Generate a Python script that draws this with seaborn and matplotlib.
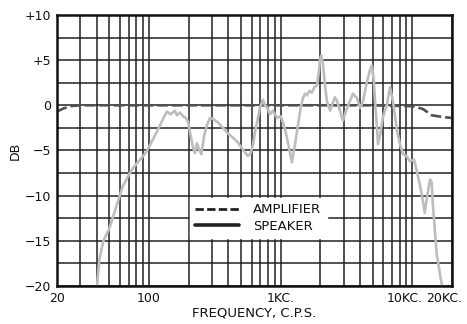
import numpy as np
import pandas as pd
import seaborn as sns
import matplotlib.pyplot as plt
import matplotlib.transforms as mtransforms
from matplotlib.lines import Line2D

# amplifier response (dashed)
amp_freq = [20, 22, 25, 30, 50, 100, 1000, 5000, 10000, 12000, 14000, 17000, 20000]
amp_db = [-0.7, -0.4, -0.1, 0, 0, 0, 0, 0, -0.1, -0.4, -1.1, -1.3, -1.4]

# speaker response (solid, light)
spk_freq = [40, 42, 45, 50, 57, 63, 72, 80, 88, 96, 105, 115, 125, 132, 137, 145,
            157, 163, 172, 181, 190, 198, 206, 214, 223, 231, 240, 250, 262, 275,
            290, 306, 334, 370, 397, 435, 473, 510, 535, 564, 590, 615, 640, 661,
            695, 733, 760, 787, 828, 873, 936, 1000, 1040, 1090, 1135, 1180, 1216,
            1250, 1282, 1352, 1420, 1476, 1530, 1582, 1650, 1726, 1800, 1884, 1950,
            1986, 2030, 2094, 2160, 2240, 2370, 2490, 2580, 2670, 2820, 2970, 3150,
            3360, 3540, 3790, 4000, 4210, 4450, 4760, 4930, 5100, 5200, 5380, 5480,
            5700, 5970, 6410, 6750, 7110, 7640, 8040, 8480, 9000, 9570, 10300,
            10800, 11400, 12000, 12400, 12900, 13600, 14000, 14300, 15300, 16200,
            16800, 17200]
spk_db = [-20.5, -17, -15, -13.6, -11, -9, -7.4, -6.5, -5.8, -5.1, -4.0, -2.9, -1.8,
          -1.1, -0.7, -1.0, -0.6, -1.1, -0.8, -1.2, -1.4, -1.8, -3.2, -4.4, -5.3,
          -4.2, -4.9, -5.4, -3.4, -2.2, -1.4, -1.5, -1.9, -2.6, -3.1, -3.6, -4.1,
          -4.8, -5.2, -5.6, -5.3, -4.4, -2.8, -1.9, -0.3, 0.6, 0, -0.2, -1.0, -0.6,
          -1.4, -1.2, -1.9, -3.0, -4.1, -5.4, -6.3, -5.2, -4.4, -2.2, -0.2, 0.8,
          1.3, 1.1, 1.6, 1.4, 2.0, 2.2, 3.8, 5.0, 5.5, 4.6, 2.4, 0.5, -0.6, 0.3,
          0.9, 0.5, -0.6, -1.7, -0.5, 0.5, 1.3, 0.8, -0.3, 0.4, 2.2, 3.9, 4.4, 2.6,
          0.5, -2.4, -4.3, -3.2, -1.3, 0.1, 2.0, 0.5, -2.8, -4.3, -5.4, -5.6, -6.2,
          -6.0, -7.3, -8.8, -10.5, -11.9, -10.2, -8.2, -8.5, -11, -16.5, -18.7,
          -20, -21]

x_ticks = [20, 100, 1000, 10000, 20000]
x_labels = ['20', '100', '1KC.', '10KC.', '20KC.']
x_minor = [30, 40, 50, 60, 70, 80, 90, 200, 300, 400, 500, 600, 700, 800, 900,
           2000, 3000, 4000, 5000, 6000, 7000, 8000, 9000]
y_ticks = [10, 5, 0, -5, -10, -15, -20]
y_labels = ['+10', '+5', '0', '\u22125', '\u221210', '\u221215', '\u221220']

df = pd.concat([
    pd.DataFrame({'freq': amp_freq, 'db': amp_db, 'series': 'AMPLIFIER'}),
    pd.DataFrame({'freq': spk_freq, 'db': spk_db, 'series': 'SPEAKER'}),
])

sns.set_style('white')
plt.rcParams['font.family'] = ['DejaVu Sans']
plt.rcParams['text.color'] = '#111111'
plt.rcParams['axes.labelcolor'] = '#111111'
plt.rcParams['xtick.color'] = '#111111'
plt.rcParams['ytick.color'] = '#111111'

fig = plt.figure(figsize=(4.67, 3.24), dpi=100)
ax = fig.add_axes([0.122, 0.117, 0.846, 0.837])

sns.lineplot(data=df, x='freq', y='db', hue='series', style='series',
             palette={'AMPLIFIER': '#505050', 'SPEAKER': '#bdbdbd'},
             dashes={'AMPLIFIER': (4, 1.5), 'SPEAKER': ''},
             estimator=None, sort=False, linewidth=1.9, ax=ax, legend=False)

ax.set_xscale('log')
ax.set_xlim(20, 20000)
ax.set_ylim(-20, 10)

ax.set_xticks(x_ticks, x_labels)
ax.set_xticks(x_minor, minor=True)
ax.set_yticks(y_ticks, y_labels)
ax.set_yticks(np.arange(-17.5, 10, 5), minor=True)
ax.tick_params(which='both', length=0, labelsize=9, pad=4)
ax.tick_params(axis='x', which='minor', labelbottom=False)

ax.grid(True, which='both', color='#222222', linewidth=1.1)
ax.set_axisbelow(True)
for sp in ax.spines.values():
    sp.set_visible(True)
    sp.set_color('#111111')
    sp.set_linewidth(1.8)

# squeeze the two right-hand labels together like the original lettering
shift = mtransforms.ScaledTranslation(-0.08, 0, fig.dpi_scale_trans)
for lab in ax.get_xticklabels()[3:]:
    lab.set_transform(lab.get_transform() + shift)

ax.set_xlabel('FREQUENCY, C.P.S.', fontsize=9.5, labelpad=1)
ax.set_ylabel('DB', fontsize=9, labelpad=2)

handles = [Line2D([], [], color='#222222', linestyle=(0, (3, 1.2)), linewidth=2),
           Line2D([], [], color='#222222', linestyle='-', linewidth=2.6)]
ax.legend(handles, ['AMPLIFIER', 'SPEAKER'], loc='upper left',
          bbox_to_anchor=(190 / 467, 1 - 198 / 324), bbox_transform=fig.transFigure,
          borderaxespad=0, borderpad=0.4, frameon=True, fancybox=False,
          edgecolor='white', framealpha=1, handlelength=3.3, handletextpad=1.1,
          labelspacing=0.25, fontsize=9.5)

fig.savefig('out.png', dpi=100)
